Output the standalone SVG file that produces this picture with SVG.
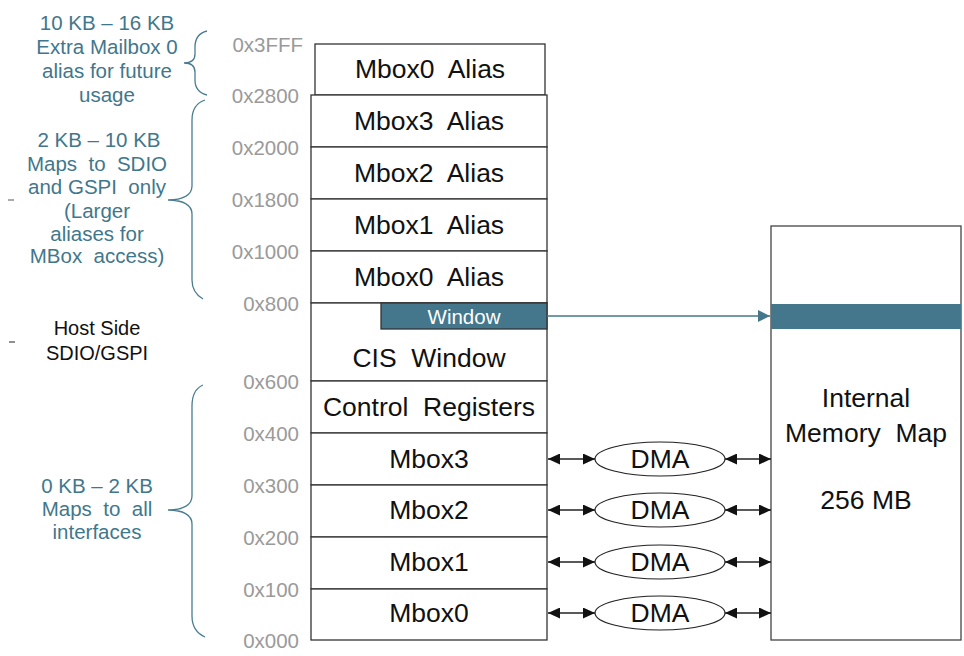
<svg xmlns="http://www.w3.org/2000/svg" width="964" height="656" viewBox="0 0 964 656">
  <defs>
    <style>
      .addr { font-family: "Liberation Sans", Arial, sans-serif; font-size: 20.5px; fill: #9a9a9a; text-anchor: end; dominant-baseline: central; }
      .note { font-family: "Liberation Sans", Arial, sans-serif; font-size: 20.5px; fill: #41778c; text-anchor: middle; }
      .host { font-family: "Liberation Sans", Arial, sans-serif; font-size: 20px; fill: #111; text-anchor: middle; }
      .cell { fill: #fff; stroke: #333; stroke-width: 1.3; }
      .lbl { font-family: "Liberation Sans", Arial, sans-serif; font-size: 26.5px; fill: #111; text-anchor: middle; dominant-baseline: central; }
      .brace { fill: none; stroke: #4a7c91; stroke-width: 1.3; }
      .dma { fill: #fff; stroke: #222; stroke-width: 1.2; }
      .bi { stroke: #222; stroke-width: 1.3; fill: none; marker-start: url(#ahs); marker-end: url(#ahe); }
      .teal { fill: #44778b; }
    </style>
    <marker id="ahe" viewBox="0 0 12 11" refX="12" refY="5.5" markerWidth="12" markerHeight="11" markerUnits="userSpaceOnUse" orient="auto">
      <path d="M0,0 L12,5.5 L0,11 Z" fill="#111"/>
    </marker>
    <marker id="ahs" viewBox="0 0 12 11" refX="0" refY="5.5" markerWidth="12" markerHeight="11" markerUnits="userSpaceOnUse" orient="auto">
      <path d="M12,0 L0,5.5 L12,11 Z" fill="#111"/>
    </marker>
    <marker id="ahTeal" viewBox="0 0 12 12" refX="12" refY="6" markerWidth="12" markerHeight="12" markerUnits="userSpaceOnUse" orient="auto">
      <path d="M0,0 L12,6 L0,12 Z" fill="#44778b"/>
    </marker>
  </defs>

  <rect width="964" height="656" fill="#fff"/>

  <!-- range annotations -->
  <g id="note-extra">
    <text class="note" x="107" y="30">10 KB – 16 KB</text>
    <text class="note" x="107" y="54">Extra Mailbox 0</text>
    <text class="note" x="107" y="78">alias for future</text>
    <text class="note" x="107" y="102">usage</text>
    <path class="brace" d="M207,31 C199,33 195,39 195,47 L195,54 C195,60 191,63 184,63 C191,63 195,66 195,72 L195,80 C195,88 199,93 207,95"/>
  </g>
  <g id="note-alias">
    <text class="note" x="99" y="147">2 KB – 10 KB</text>
    <text class="note" x="97" y="171" xml:space="preserve">Maps  to  SDIO</text>
    <text class="note" x="97" y="194" xml:space="preserve">and GSPI  only</text>
    <text class="note" x="97" y="218">(Larger</text>
    <text class="note" x="97" y="241">aliases for</text>
    <text class="note" x="97" y="263" xml:space="preserve">MBox  access)</text>
    <path class="brace" d="M205,100 C196,103 192,110 192,120 L192,186 C192,195 183,200 168,200 C183,200 192,205 192,214 L192,280 C192,290 196,295 203,299"/>
  </g>
  <g id="note-host">
    <text class="host" x="97" y="335">Host Side</text>
    <text class="host" x="97" y="360">SDIO/GSPI</text>
    <line x1="8" y1="200" x2="14" y2="200" stroke="#555" stroke-width="1"/>
    <line x1="9" y1="342" x2="15" y2="342" stroke="#222" stroke-width="1"/>
  </g>
  <g id="note-common">
    <text class="note" x="97" y="493">0 KB – 2 KB</text>
    <text class="note" x="97" y="516" xml:space="preserve">Maps  to  all</text>
    <text class="note" x="97" y="539">interfaces</text>
    <path class="brace" d="M203,385 C196,388 192,396 192,406 L192,496 C192,505 183,510 168,510 C183,510 192,515 192,524 L192,616 C192,626 196,633 205,637"/>
  </g>

  <!-- address labels -->
  <g id="addresses">
    <text class="addr" x="303" y="44">0x3FFF</text>
    <text class="addr" x="299" y="95">0x2800</text>
    <text class="addr" x="299" y="147">0x2000</text>
    <text class="addr" x="299" y="199">0x1800</text>
    <text class="addr" x="299" y="251">0x1000</text>
    <text class="addr" x="299" y="303">0x800</text>
    <text class="addr" x="299" y="381">0x600</text>
    <text class="addr" x="299" y="433">0x400</text>
    <text class="addr" x="299" y="485">0x300</text>
    <text class="addr" x="299" y="537">0x200</text>
    <text class="addr" x="299" y="589">0x100</text>
    <text class="addr" x="299" y="640">0x000</text>
  </g>

  <!-- host-side address map -->
  <g id="mbox0-alias-top">
    <rect class="cell" x="315" y="44" width="230" height="51"/>
    <text class="lbl" x="430" y="69" xml:space="preserve">Mbox0  Alias</text>
  </g>
  <g id="mbox3-alias">
    <rect class="cell" x="311" y="95" width="236" height="52"/>
    <text class="lbl" x="429" y="121" xml:space="preserve">Mbox3  Alias</text>
  </g>
  <g id="mbox2-alias">
    <rect class="cell" x="311" y="147" width="236" height="52"/>
    <text class="lbl" x="429" y="173" xml:space="preserve">Mbox2  Alias</text>
  </g>
  <g id="mbox1-alias">
    <rect class="cell" x="311" y="199" width="236" height="52"/>
    <text class="lbl" x="429" y="225" xml:space="preserve">Mbox1  Alias</text>
  </g>
  <g id="mbox0-alias">
    <rect class="cell" x="311" y="251" width="236" height="52"/>
    <text class="lbl" x="429" y="277" xml:space="preserve">Mbox0  Alias</text>
  </g>
  <g id="cis-window">
    <rect class="cell" x="311" y="303" width="236" height="78"/>
    <rect x="381" y="303" width="166" height="26" class="teal" stroke="#333" stroke-width="1.3"/>
    <text x="464" y="316" font-family="'Liberation Sans', Arial, sans-serif" font-size="20.5px" fill="#fff" text-anchor="middle" dominant-baseline="central">Window</text>
    <text class="lbl" x="429" y="358" xml:space="preserve">CIS  Window</text>
  </g>
  <g id="control-registers">
    <rect class="cell" x="311" y="381" width="236" height="52"/>
    <text class="lbl" x="429" y="407" xml:space="preserve">Control  Registers</text>
  </g>
  <g id="mbox3">
    <rect class="cell" x="311" y="433" width="236" height="52"/>
    <text class="lbl" x="429" y="459">Mbox3</text>
  </g>
  <g id="mbox2">
    <rect class="cell" x="311" y="485" width="236" height="52"/>
    <text class="lbl" x="429" y="510">Mbox2</text>
  </g>
  <g id="mbox1">
    <rect class="cell" x="311" y="537" width="236" height="52"/>
    <text class="lbl" x="429" y="562">Mbox1</text>
  </g>
  <g id="mbox0">
    <rect class="cell" x="311" y="589" width="236" height="51"/>
    <text class="lbl" x="429" y="613">Mbox0</text>
  </g>

  <!-- internal memory -->
  <g id="internal-memory">
    <rect x="771" y="226" width="190" height="414" fill="#fff" stroke="#444" stroke-width="1.3"/>
    <rect x="771" y="304" width="190" height="25" class="teal"/>
    <text class="lbl" x="866" y="398">Internal</text>
    <text class="lbl" x="866" y="433" xml:space="preserve">Memory  Map</text>
    <text class="lbl" x="866" y="500">256 MB</text>
  </g>

  <!-- DMA engines -->
  <g id="dma3"><ellipse class="dma" cx="660" cy="459" rx="65" ry="17"/><text class="lbl" x="660" y="459">DMA</text></g>
  <g id="dma2"><ellipse class="dma" cx="660" cy="510" rx="65" ry="17"/><text class="lbl" x="660" y="510">DMA</text></g>
  <g id="dma1"><ellipse class="dma" cx="660" cy="562" rx="65" ry="17"/><text class="lbl" x="660" y="562">DMA</text></g>
  <g id="dma0"><ellipse class="dma" cx="660" cy="613" rx="65" ry="17"/><text class="lbl" x="660" y="613">DMA</text></g>

  <!-- connectors -->
  <g id="connectors">
    <line x1="547" y1="316" x2="770" y2="316" stroke="#44778b" stroke-width="1.3" marker-end="url(#ahTeal)"/>
    <line class="bi" x1="548" y1="459" x2="595" y2="459"/>
    <line class="bi" x1="725" y1="459" x2="771" y2="459"/>
    <line class="bi" x1="548" y1="510" x2="595" y2="510"/>
    <line class="bi" x1="725" y1="510" x2="771" y2="510"/>
    <line class="bi" x1="548" y1="562" x2="595" y2="562"/>
    <line class="bi" x1="725" y1="562" x2="771" y2="562"/>
    <line class="bi" x1="548" y1="613" x2="595" y2="613"/>
    <line class="bi" x1="725" y1="613" x2="771" y2="613"/>
  </g>
</svg>
